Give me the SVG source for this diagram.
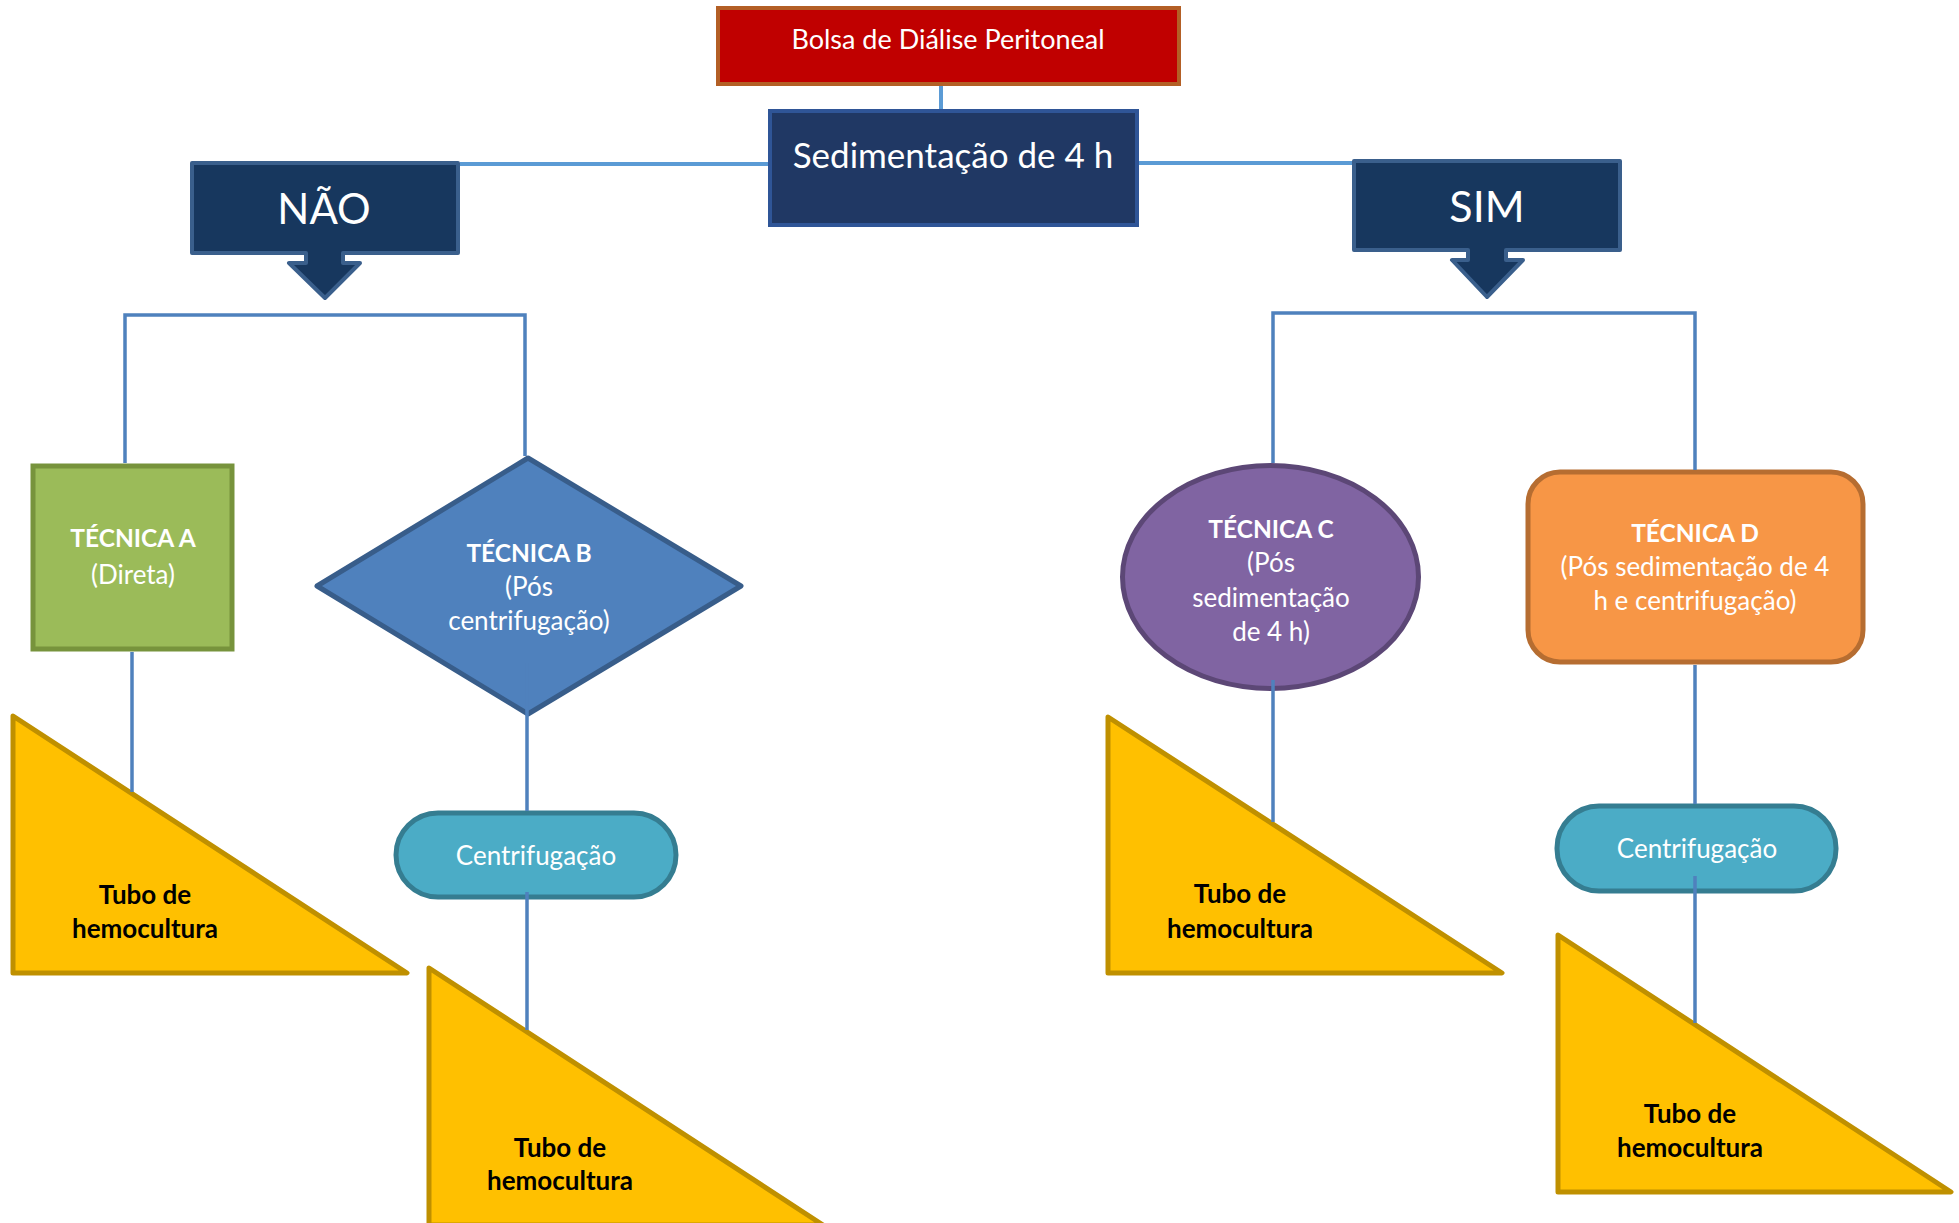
<svg xmlns="http://www.w3.org/2000/svg" width="1959" height="1223" viewBox="0 0 1959 1223">
<style>
text{font-family:Lato,"Open Sans","Liberation Sans",sans-serif;text-anchor:middle;fill:#ffffff}
.b{font-weight:bold;font-size:24.5px}
.tube{stroke:#BF9000;stroke-width:5;fill:#FFC000;stroke-linejoin:round}
.tubet{fill:#000000;font-weight:bold;font-size:26px}
.pill{fill:#4BACC6;stroke:#357D91;stroke-width:5}
.pillt{font-size:26px}
.tech{font-size:26px}
.ctop{stroke:#5B9BD5;stroke-width:4;fill:none}
.cbr{stroke:#4F81BD;stroke-width:3.5;fill:none}
.callout{fill:#17375E;stroke:#3A5F8C;stroke-width:4;stroke-linejoin:round}
</style>
<rect width="1959" height="1223" fill="#ffffff"/>

<g id="bolsa">
<rect x="718" y="8" width="461" height="76" fill="#C00000" stroke="#B35F25" stroke-width="4"/>
<text x="948" y="49" style="font-size:27px">Bolsa de Diálise Peritoneal</text>
</g>

<g id="sedimentacao">
<rect x="770" y="111" width="367" height="114" fill="#203864" stroke="#2F5597" stroke-width="4"/>
<text x="953" y="168" style="font-size:35px">Sedimentação de 4 h</text>
</g>

<g id="nao">
<path class="callout" d="M192,163 H458 V253 H343 V263 H360 L325,298 L289,263 H306 V253 H192 Z"/>
<text x="324" y="224" style="font-size:42px">NÃO</text>
</g>

<g id="sim">
<path class="callout" d="M1354,161 H1620 V250 H1506 V260 H1523 L1487,297 L1452,260 H1468 V250 H1354 Z"/>
<text x="1487" y="222" style="font-size:43px">SIM</text>
</g>

<g id="tecnica-a">
<rect x="33" y="466" width="199" height="183" fill="#9BBB59" stroke="#77933C" stroke-width="5"/>
<text x="133" y="547" class="b">TÉCNICA A</text>
<text x="133" y="584" class="tech">(Direta)</text>
</g>

<g id="tecnica-b">
<polygon points="528,458 741,586 528,714 317,586" fill="#4F81BD" stroke="#385D8A" stroke-width="5" stroke-linejoin="round"/>
<text x="529" y="562" class="b">TÉCNICA B</text>
<text x="529" y="596" class="tech">(Pós</text>
<text x="529" y="630" class="tech">centrifugação)</text>
</g>

<g id="tecnica-c">
<ellipse cx="1270.5" cy="577" rx="148" ry="111.5" fill="#8064A2" stroke="#5C4776" stroke-width="5"/>
<text x="1271" y="538" class="b">TÉCNICA C</text>
<text x="1271" y="572" class="tech">(Pós</text>
<text x="1271" y="607" class="tech">sedimentação</text>
<text x="1271" y="641" class="tech">de 4 h)</text>
</g>

<g id="tecnica-d">
<rect x="1528" y="472" width="335" height="190" rx="32" ry="32" fill="#F79646" stroke="#B66D31" stroke-width="5"/>
<text x="1695" y="542" class="b">TÉCNICA D</text>
<text x="1695" y="576" class="tech">(Pós sedimentação de 4</text>
<text x="1695" y="610" class="tech">h e centrifugação)</text>
</g>

<g id="centrifugacao-b">
<rect x="396" y="813" width="280" height="84" rx="42" ry="42" class="pill"/>
<text x="536" y="865" class="pillt">Centrifugação</text>
</g>

<g id="centrifugacao-d">
<rect x="1557" y="806" width="279" height="85" rx="42" ry="42" class="pill"/>
<text x="1697" y="858" class="pillt">Centrifugação</text>
</g>

<g id="tubo-a">
<polygon class="tube" points="13,716 407,973 13,973"/>
<text x="145" y="904" class="tubet">Tubo de</text>
<text x="145" y="938" class="tubet">hemocultura</text>
</g>

<g id="tubo-b">
<polygon class="tube" points="429,968 823,1225 429,1225"/>
<text x="560" y="1157" class="tubet">Tubo de</text>
<text x="560" y="1190" class="tubet">hemocultura</text>
</g>

<g id="tubo-c">
<polygon class="tube" points="1108,717 1502,973 1108,973"/>
<text x="1240" y="903" class="tubet">Tubo de</text>
<text x="1240" y="938" class="tubet">hemocultura</text>
</g>

<g id="tubo-d">
<polygon class="tube" points="1558,935 1951,1192 1558,1192"/>
<text x="1690" y="1123" class="tubet">Tubo de</text>
<text x="1690" y="1157" class="tubet">hemocultura</text>
</g>

<g id="connectors">
<line class="ctop" x1="941" y1="86" x2="941" y2="109"/>
<line class="ctop" x1="460" y1="164" x2="768" y2="164"/>
<line class="ctop" x1="1139" y1="163" x2="1352" y2="163"/>
<path class="cbr" d="M125,463 V315 H525 V456"/>
<path class="cbr" d="M1273,463 V313 H1695 V470"/>
<line class="cbr" x1="132" y1="652" x2="132" y2="792"/>
<line class="cbr" x1="527" y1="663" x2="527" y2="811"/>
<line class="cbr" x1="527" y1="892" x2="527" y2="1030"/>
<line class="cbr" x1="1273" y1="680" x2="1273" y2="822"/>
<line class="cbr" x1="1695" y1="665" x2="1695" y2="804"/>
<line class="cbr" x1="1695" y1="876" x2="1695" y2="1023"/>
</g>
</svg>
